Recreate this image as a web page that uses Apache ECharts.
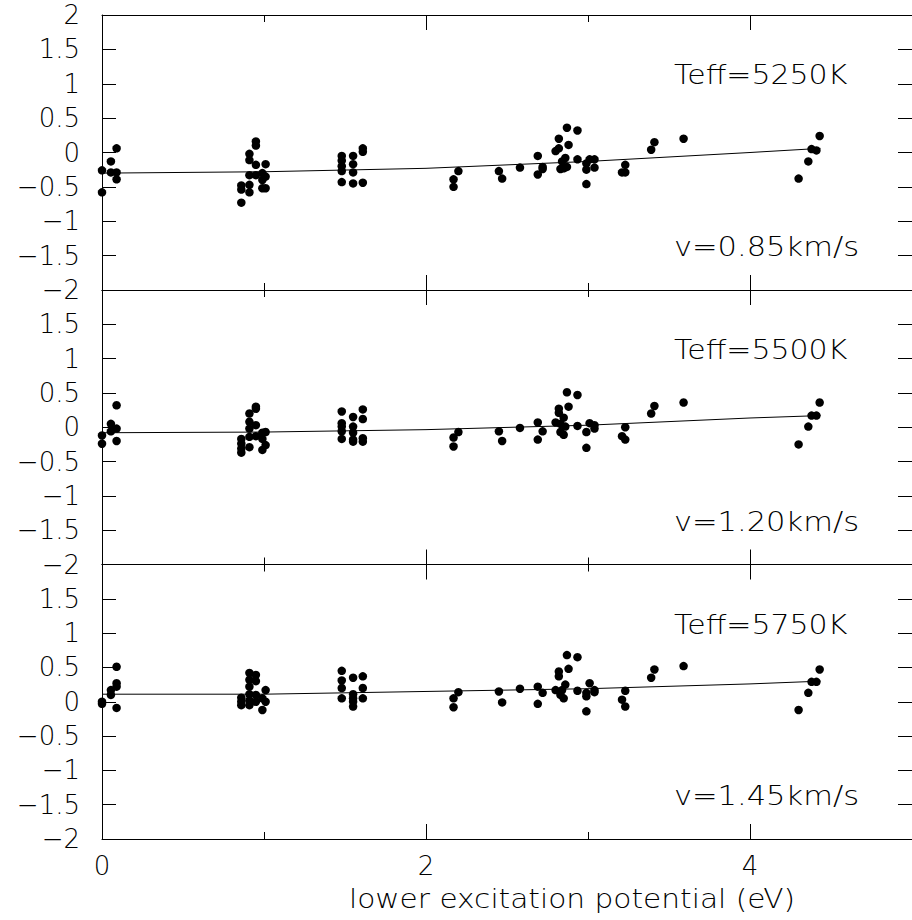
<!DOCTYPE html>
<html>
<head>
<meta charset="utf-8">
<script src="https://cdn.jsdelivr.net/npm/echarts@6/dist/echarts.min.js"></script>
<style>
  html, body { margin: 0; padding: 0; background: #fff; }
  #chart { width: 912px; height: 920px; }
</style>
</head>
<body>
<div id="chart"></div>
<script>
// Fe I abundance vs. lower excitation potential for three model atmospheres.
// Each point: [excitation potential (eV), abundance offset]
const lines5250 = [
  [0, -0.26], [0, -0.58], [0.055, -0.13], [0.055, -0.29], [0.09, 0.06], [0.09, -0.29], [0.09, -0.39],
  [0.86, -0.48], [0.86, -0.54], [0.86, -0.73], [0.91, -0.02], [0.91, -0.11], [0.91, -0.33], [0.91, -0.47],
  [0.91, -0.58], [0.95, 0.16], [0.95, 0.10], [0.95, -0.18], [0.95, -0.33], [0.99, -0.30], [0.99, -0.40],
  [1.01, -0.17], [1.01, -0.35], [1.01, -0.52], [0.99, -0.52],
  [1.48, -0.05], [1.48, -0.12], [1.48, -0.20], [1.48, -0.27], [1.48, -0.43], [1.55, -0.05], [1.55, -0.17],
  [1.55, -0.29], [1.55, -0.45], [1.61, 0.06], [1.61, 0.01], [1.61, -0.44],
  [2.17, -0.39], [2.17, -0.50], [2.2, -0.27],
  [2.45, -0.27], [2.47, -0.38], [2.58, -0.22], [2.69, -0.05], [2.69, -0.32], [2.72, -0.21], [2.72, -0.24],
  [2.80, 0.02], [2.82, 0.06], [2.82, 0.20], [2.87, 0.36], [2.88, 0.11], [2.935, 0.32], [2.86, -0.08],
  [2.84, -0.13], [2.83, -0.24], [2.85, -0.23], [2.87, -0.21], [2.935, -0.10], [2.99, -0.16], [3.01, -0.10],
  [3.04, -0.10], [2.99, -0.25], [3.04, -0.22], [2.99, -0.46],
  [3.21, -0.29], [3.23, -0.29], [3.23, -0.18], [3.39, 0.04], [3.41, 0.15], [3.59, 0.20],
  [4.30, -0.38], [4.36, -0.13], [4.38, 0.05], [4.41, 0.03], [4.43, 0.24]
];
const lines5500 = [
  [0, -0.12], [0, -0.24], [0.055, 0.05], [0.055, -0.06], [0.09, 0.32], [0.09, -0.02], [0.09, -0.20],
  [0.86, -0.17], [0.86, -0.24], [0.86, -0.31], [0.86, -0.37], [0.91, 0.20], [0.91, 0.08], [0.91, -0.02],
  [0.91, -0.14], [0.91, -0.29], [0.95, 0.30], [0.95, 0.27], [0.95, 0.03], [0.95, -0.13], [0.99, -0.08],
  [0.99, -0.17], [0.99, -0.33], [1.01, -0.07], [1.01, -0.26],
  [1.48, 0.23], [1.48, 0.06], [1.48, 0.01], [1.48, -0.06], [1.48, -0.17], [1.55, 0.15], [1.55, 0.01],
  [1.55, -0.08], [1.55, -0.18], [1.55, -0.21], [1.61, 0.26], [1.61, 0.12], [1.61, -0.16], [1.61, -0.21],
  [2.17, -0.15], [2.17, -0.28], [2.2, -0.07],
  [2.45, -0.06], [2.47, -0.20], [2.58, -0.01], [2.69, 0.07], [2.69, -0.18], [2.72, -0.06],
  [2.80, 0.07], [2.82, 0.27], [2.82, 0.21], [2.87, 0.51], [2.88, 0.30], [2.935, 0.47], [2.85, 0.14],
  [2.83, 0.05], [2.86, 0.01], [2.83, -0.07], [2.85, -0.11], [2.935, 0.02], [2.99, -0.07], [3.01, 0.06],
  [3.04, 0.03], [3.04, -0.02], [2.99, -0.30],
  [3.21, -0.13], [3.23, -0.18], [3.23, 0.0], [3.39, 0.20], [3.41, 0.31], [3.59, 0.36],
  [4.30, -0.25], [4.36, 0.01], [4.38, 0.17], [4.41, 0.17], [4.43, 0.36]
];
const lines5750 = [
  [0, 0.0], [0, -0.03], [0.055, 0.10], [0.055, 0.17], [0.09, 0.51], [0.09, 0.27], [0.09, 0.22], [0.09, -0.09],
  [0.86, 0.06], [0.86, 0.0], [0.86, -0.05], [0.91, 0.42], [0.91, 0.32], [0.91, 0.22], [0.91, 0.11],
  [0.91, 0.02], [0.91, -0.05], [0.95, 0.39], [0.95, 0.30], [0.95, 0.10], [0.95, 0.0], [0.99, 0.05],
  [0.99, -0.12], [1.01, 0.17], [1.01, 0.0],
  [1.48, 0.45], [1.48, 0.31], [1.48, 0.20], [1.48, 0.05], [1.55, 0.35], [1.55, 0.11], [1.55, 0.05],
  [1.55, 0.0], [1.55, -0.07], [1.61, 0.37], [1.61, 0.20], [1.61, 0.05],
  [2.17, 0.05], [2.17, -0.08], [2.2, 0.14],
  [2.45, 0.15], [2.47, -0.01], [2.58, 0.19], [2.69, 0.22], [2.69, -0.03], [2.72, 0.13],
  [2.80, 0.17], [2.82, 0.44], [2.82, 0.37], [2.87, 0.68], [2.88, 0.48], [2.935, 0.65], [2.86, 0.25],
  [2.84, 0.17], [2.83, 0.10], [2.85, 0.05], [2.935, 0.16], [3.01, 0.27], [2.99, 0.13], [2.99, 0.08],
  [3.04, 0.17], [3.04, 0.14], [2.99, -0.14],
  [3.21, 0.03], [3.23, -0.07], [3.23, 0.16], [3.39, 0.35], [3.41, 0.47], [3.59, 0.52],
  [4.30, -0.12], [4.36, 0.13], [4.38, 0.29], [4.41, 0.29], [4.43, 0.47]
];

// Fitted trend in each panel, sampled along the curve
const fitX = [0, 1, 2, 3, 4, 4.435];
const fit5250 = [-0.30, -0.28, -0.23, -0.13, 0.00, 0.06];
const fit5500 = [-0.08, -0.07, -0.035, 0.03, 0.135, 0.17];
const fit5750 = [0.11, 0.11, 0.15, 0.19, 0.26, 0.30];

const teffLabels = ['Teff=5250K', 'Teff=5500K', 'Teff=5750K'];
const vLabels = ['v=0.85km/s', 'v=1.20km/s', 'v=1.45km/s'];
const xTitle = 'lower excitation potential (eV)';

const panelData = [lines5250, lines5500, lines5750];
const panelFits = [fit5250, fit5500, fit5750];

const FONT = "'DejaVu Sans ExtraLight', 'DejaVu Sans', sans-serif";
const WEIGHT = 200;
const INK = '#000';

const gridTops = [15, 290, 564.5];
const gridHeights = [275, 274.5, 274.5];
const gridLeft = 102;
const gridWidth = 815;

function fmtY(v) {
  if (v < 0) return '\u2212' + String(Math.abs(v));
  return String(v);
}

function xAxisDef(gi, position, interval, tickLen, labels) {
  return {
    type: 'value', gridIndex: gi, position: position,
    min: 0, max: 5, interval: interval,
    axisLine: { show: interval === 1, onZero: false, lineStyle: { color: INK, width: 1 } },
    axisTick: { show: true, inside: true, length: tickLen, lineStyle: { color: INK, width: 1 } },
    splitLine: { show: false },
    axisLabel: {
      show: labels, showMaxLabel: false, margin: 14,
      fontFamily: FONT, fontWeight: WEIGHT, fontSize: 26, color: INK,
      formatter: v => String(v)
    }
  };
}

function yAxisDef(gi, position, labels) {
  return {
    type: 'value', gridIndex: gi, position: position,
    min: -2, max: 2, interval: 0.5,
    axisLine: { show: true, onZero: false, lineStyle: { color: INK, width: 1 } },
    axisTick: { show: true, inside: true, length: 14, lineStyle: { color: INK, width: 1 } },
    splitLine: { show: false },
    axisLabel: {
      show: labels, showMaxLabel: gi === 0, margin: 22,
      fontFamily: FONT, fontWeight: WEIGHT, fontSize: 26, color: INK,
      formatter: fmtY
    }
  };
}

const grids = [], xAxes = [], yAxes = [], series = [], graphics = [];
for (let i = 0; i < 3; i++) {
  grids.push({ left: gridLeft, width: gridWidth, top: gridTops[i], height: gridHeights[i] });
  const last = i === 2;
  xAxes.push(xAxisDef(i, 'bottom', 1, 7, false));
  xAxes.push(xAxisDef(i, 'bottom', 2, 15, last));
  xAxes.push(xAxisDef(i, 'top', 1, 7, false));
  xAxes.push(xAxisDef(i, 'top', 2, 15, false));
  yAxes.push(yAxisDef(i, 'left', true));
  yAxes.push(yAxisDef(i, 'right', false));

  series.push({
    type: 'line', xAxisIndex: 4 * i, yAxisIndex: 2 * i,
    data: fitX.map((x, k) => [x, panelFits[i][k]]),
    showSymbol: false, symbol: 'none', silent: true,
    lineStyle: { color: INK, width: 1 }, z: 2
  });
  series.push({
    type: 'scatter', xAxisIndex: 4 * i, yAxisIndex: 2 * i,
    data: panelData[i], symbol: 'circle', symbolSize: 8.5,
    itemStyle: { color: INK, opacity: 1 }, z: 3
  });

  const top = gridTops[i];
  graphics.push({
    type: 'text', x: 674, y: top + 60.5, scaleX: 1.11,
    style: { text: teffLabels[i], fontFamily: FONT, fontWeight: WEIGHT, fontSize: 27,
             fill: INK, align: 'left', verticalAlign: 'middle' }
  });
  graphics.push({
    type: 'text', x: 674, y: top + 231.5, scaleX: 1.13,
    style: { text: vLabels[i], fontFamily: FONT, fontWeight: WEIGHT, fontSize: 27,
             fill: INK, align: 'left', verticalAlign: 'middle' }
  });
}
graphics.push({
  type: 'text', x: 349, y: 899, scaleX: 1.14,
  style: { text: xTitle, fontFamily: FONT, fontWeight: WEIGHT, fontSize: 26,
           fill: INK, align: 'left', verticalAlign: 'middle' }
});

const chart = echarts.init(document.getElementById('chart'), null, { renderer: 'svg' });
chart.setOption({
  animation: false,
  backgroundColor: '#fff',
  grid: grids,
  xAxis: xAxes,
  yAxis: yAxes,
  series: series,
  graphic: graphics
});
</script>
</body>
</html>
